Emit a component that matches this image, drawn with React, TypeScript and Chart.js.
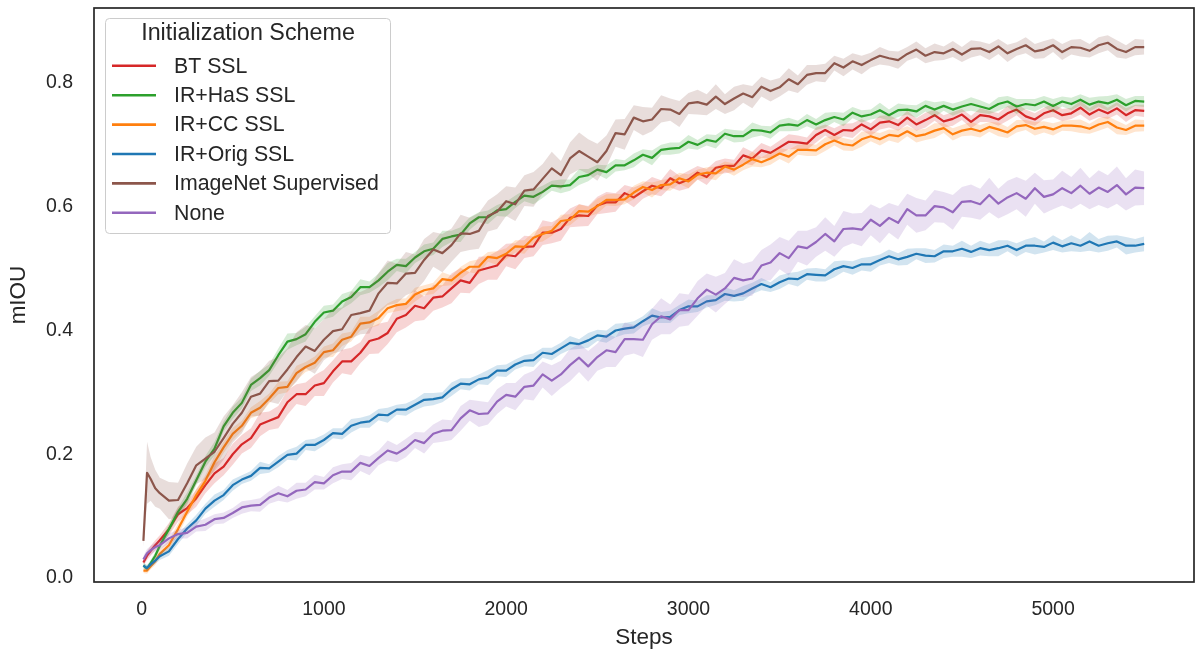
import React, { useEffect, useRef } from 'react';
import { Chart, registerables } from 'chart.js';

Chart.register(...registerables);

// x positions (training steps)
const STEPS = [
  10, 30, 50, 75,
  100, 150, 200, 250, 300, 350, 400, 450, 500, 550,
  600, 650, 700, 750, 800, 850, 900, 950, 1000, 1050,
  1100, 1150, 1200, 1250, 1300, 1350, 1400, 1450, 1500, 1550,
  1600, 1650, 1700, 1750, 1800, 1850, 1900, 1950, 2000, 2050,
  2100, 2150, 2200, 2250, 2300, 2350, 2400, 2450, 2500, 2550,
  2600, 2650, 2700, 2750, 2800, 2850, 2900, 2950, 3000, 3050,
  3100, 3150, 3200, 3250, 3300, 3350, 3400, 3450, 3500, 3550,
  3600, 3650, 3700, 3750, 3800, 3850, 3900, 3950, 4000, 4050,
  4100, 4150, 4200, 4250, 4300, 4350, 4400, 4450, 4500, 4550,
  4600, 4650, 4700, 4750, 4800, 4850, 4900, 4950, 5000, 5050,
  5100, 5150, 5200, 5250, 5300, 5350, 5400, 5450, 5500,
];

const X_TICKS = [0, 1000, 2000, 3000, 4000, 5000];
const Y_TICKS = [0, 0.2, 0.4, 0.6, 0.8];

// BT SSL
const BT_MEAN = [
  .025, .036, .044, .053,
  .061, .079, .103, .113, .129, .15, .169, .18, .2, .216,
  .226, .248, .254, .26, .284, .297, .297, .311, .315, .334,
  .35, .35, .364, .383, .387, .396, .419, .425, .44, .436,
  .453, .455, .468, .481, .477, .497, .501, .505, .522, .52,
  .535, .536, .558, .558, .564, .582, .586, .585, .602, .607,
  .607, .622, .615, .625, .634, .63, .646, .638, .644, .655,
  .648, .663, .666, .666, .683, .678, .691, .687, .696, .705,
  .704, .702, .716, .724, .716, .724, .723, .733, .725, .736,
  .738, .732, .744, .733, .74, .748, .738, .742, .749, .737,
  .748, .746, .741, .751, .757, .746, .741, .751, .756, .748,
  .751, .76, .749, .757, .751, .759, .748, .756, .755,
];
const BT_HW = [
  .006, .007, .008, .008,
  .008, .01, .012, .011, .014, .013, .016, .014, .017, .015,
  .016, .019, .015, .018, .02, .016, .019, .017, .021, .018,
  .019, .022, .017, .021, .024, .018, .022, .02, .025, .019,
  .021, .018, .024, .02, .017, .022, .019, .023, .018, .021,
  .018, .016, .02, .017, .019, .015, .018, .016, .014, .017,
  .015, .013, .016, .012, .014, .013, .015, .012, .014, .011,
  .013, .011, .012, .01, .013, .011, .012, .01, .011, .012,
  .011, .01, .012, .009, .011, .01, .012, .009, .01, .011,
  .01, .009, .011, .01, .012, .009, .01, .011, .009, .01,
  .011, .009, .01, .012, .009, .011, .01, .009, .011, .01,
  .009, .011, .01, .012, .009, .01, .011, .009, .01,
];

// IR+HaS SSL
const HAS_MEAN = [
  .02, .015, .024, .036,
  .052, .079, .107, .128, .158, .188, .209, .245, .267, .283,
  .312, .323, .336, .36, .382, .386, .394, .414, .429, .432,
  .447, .454, .47, .47, .481, .495, .506, .504, .518, .528,
  .532, .548, .552, .555, .573, .583, .583, .594, .596, .608,
  .618, .616, .624, .634, .633, .635, .648, .651, .66, .656,
  .667, .667, .675, .684, .679, .692, .694, .695, .705, .7,
  .708, .705, .718, .714, .714, .724, .723, .72, .731, .733,
  .731, .74, .733, .74, .745, .741, .752, .746, .749, .756,
  .748, .756, .757, .754, .763, .757, .763, .757, .762, .766,
  .762, .758, .766, .77, .762, .766, .764, .77, .763, .77,
  .766, .773, .765, .77, .767, .773, .764, .771, .77,
];
const HAS_HW = [
  .005, .005, .005, .006,
  .006, .008, .007, .01, .008, .009, .011, .008, .01, .009,
  .01, .012, .009, .011, .013, .01, .012, .009, .011, .01,
  .012, .01, .013, .009, .011, .014, .01, .012, .009, .011,
  .01, .013, .009, .012, .01, .008, .011, .009, .012, .01,
  .009, .012, .01, .008, .011, .009, .013, .01, .008, .011,
  .01, .008, .011, .009, .012, .008, .01, .009, .011, .008,
  .009, .011, .008, .01, .009, .012, .008, .01, .009, .011,
  .008, .01, .009, .012, .008, .011, .009, .01, .008, .012,
  .009, .011, .008, .01, .009, .012, .008, .01, .009, .011,
  .01, .008, .011, .009, .012, .008, .01, .009, .011, .008,
  .01, .009, .011, .008, .012, .009, .01, .008, .009,
];

// IR+CC SSL
const CC_MEAN = [
  .012, .012, .019, .027,
  .039, .053, .079, .107, .134, .157, .187, .211, .233, .246,
  .267, .275, .29, .307, .309, .331, .341, .348, .365, .368,
  .385, .39, .411, .413, .42, .436, .441, .443, .458, .465,
  .468, .483, .481, .493, .503, .503, .519, .517, .524, .536,
  .535, .55, .556, .561, .577, .579, .593, .592, .601, .611,
  .611, .612, .623, .632, .627, .635, .636, .646, .641, .652,
  .655, .654, .665, .66, .668, .677, .672, .678, .686, .681,
  .692, .692, .691, .701, .707, .701, .699, .709, .714, .709,
  .716, .714, .722, .714, .717, .723, .727, .717, .723, .726,
  .722, .729, .725, .72, .73, .732, .726, .729, .725, .731,
  .731, .73, .726, .733, .737, .728, .724, .731, .731,
];
const CC_HW = [
  .004, .005, .005, .006,
  .007, .008, .009, .008, .01, .009, .011, .009, .01, .008,
  .009, .011, .008, .01, .009, .012, .008, .01, .009, .011,
  .01, .008, .011, .009, .012, .008, .01, .009, .011, .008,
  .009, .011, .008, .01, .009, .012, .008, .011, .009, .01,
  .011, .009, .012, .008, .01, .009, .011, .008, .012, .009,
  .01, .008, .011, .009, .012, .008, .01, .009, .011, .008,
  .009, .011, .008, .01, .009, .012, .008, .01, .009, .011,
  .008, .01, .009, .011, .008, .01, .009, .012, .008, .01,
  .009, .011, .008, .01, .009, .012, .008, .01, .009, .011,
  .01, .008, .011, .009, .01, .008, .011, .009, .01, .008,
  .009, .011, .008, .01, .009, .011, .008, .01, .009,
];

// IR+Orig SSL
const ORIG_MEAN = [
  .02, .016, .022, .028,
  .035, .043, .063, .08, .093, .112, .125, .134, .15, .159,
  .165, .178, .177, .188, .199, .201, .215, .215, .223, .234,
  .233, .246, .251, .253, .264, .263, .272, .272, .28, .288,
  .289, .292, .305, .314, .313, .321, .324, .335, .335, .345,
  .351, .352, .364, .362, .371, .38, .378, .384, .392, .39,
  .4, .403, .405, .415, .424, .421, .422, .433, .439, .439,
  .447, .449, .459, .456, .46, .468, .475, .47, .478, .484,
  .483, .491, .49, .489, .499, .504, .501, .507, .507, .514,
  .52, .515, .519, .524, .521, .52, .528, .528, .532, .527,
  .533, .53, .533, .537, .53, .537, .537, .535, .542, .536,
  .541, .537, .544, .537, .541, .544, .537, .537, .54,
];
const ORIG_HW = [
  .004, .005, .005, .005,
  .006, .007, .008, .007, .009, .008, .01, .008, .009, .007,
  .008, .01, .007, .009, .008, .011, .008, .01, .009, .008,
  .009, .011, .008, .01, .009, .012, .008, .01, .009, .011,
  .01, .008, .011, .009, .01, .008, .012, .009, .01, .008,
  .009, .011, .008, .01, .009, .011, .008, .012, .009, .01,
  .011, .009, .01, .008, .012, .009, .01, .008, .011, .009,
  .01, .008, .011, .009, .012, .009, .01, .008, .011, .009,
  .012, .009, .011, .01, .013, .009, .011, .01, .012, .009,
  .011, .01, .013, .009, .012, .01, .011, .009, .013, .01,
  .012, .01, .013, .009, .011, .01, .014, .009, .012, .01,
  .013, .01, .015, .011, .012, .01, .014, .011, .012,
];

// ImageNet Supervised
const IMNET_MEAN = [
  .06, .17, .16, .145,
  .137, .125, .126, .153, .182, .193, .204, .226, .249, .267,
  .293, .298, .318, .319, .337, .357, .374, .367, .385, .399,
  .402, .425, .428, .432, .46, .477, .476, .492, .493, .514,
  .531, .525, .538, .557, .556, .561, .585, .592, .609, .604,
  .626, .628, .645, .662, .651, .678, .69, .681, .672, .69,
  .719, .717, .744, .738, .741, .758, .757, .75, .767, .769,
  .765, .778, .766, .775, .783, .777, .794, .787, .793, .806,
  .798, .813, .816, .816, .832, .825, .835, .829, .837, .844,
  .84, .837, .847, .854, .844, .85, .848, .855, .846, .855,
  .856, .85, .859, .848, .855, .861, .851, .854, .861, .85,
  .858, .857, .852, .861, .865, .855, .85, .858, .858,
];
const IMNET_HW = [
  .01, .05, .035, .03,
  .025, .03, .028, .032, .03, .034, .031, .035, .03, .033,
  .032, .036, .033, .038, .034, .04, .035, .037, .033, .036,
  .035, .038, .034, .037, .033, .036, .032, .035, .03, .034,
  .028, .031, .027, .03, .026, .029, .025, .028, .024, .027,
  .025, .028, .024, .027, .023, .026, .03, .028, .03, .025,
  .022, .025, .02, .023, .019, .022, .018, .021, .017, .02,
  .017, .02, .016, .019, .015, .018, .016, .017, .015, .018,
  .014, .016, .013, .015, .012, .014, .013, .015, .012, .014,
  .012, .014, .011, .013, .012, .014, .011, .013, .012, .014,
  .011, .013, .012, .014, .011, .013, .012, .014, .011, .013,
  .012, .014, .011, .013, .012, .014, .011, .013, .012,
];

// None
const NONE_MEAN = [
  .03, .04, .045, .05,
  .053, .064, .071, .073, .083, .086, .095, .097, .105, .114,
  .117, .118, .13, .137, .132, .141, .143, .155, .153, .166,
  .172, .172, .186, .181, .194, .206, .201, .21, .223, .218,
  .233, .238, .239, .258, .271, .265, .266, .285, .296, .293,
  .309, .311, .329, .319, .329, .344, .356, .342, .357, .368,
  .365, .386, .386, .385, .41, .423, .418, .433, .433, .452,
  .466, .458, .468, .485, .481, .484, .505, .51, .525, .517,
  .536, .533, .543, .556, .544, .564, .565, .563, .579, .569,
  .582, .574, .596, .586, .586, .601, .599, .591, .608, .609,
  .604, .619, .605, .615, .622, .613, .63, .616, .62, .63,
  .622, .634, .621, .631, .624, .635, .62, .631, .63,
];
const NONE_HW = [
  .006, .007, .007, .007,
  .007, .008, .007, .009, .008, .01, .008, .009, .008, .01,
  .009, .011, .01, .012, .01, .013, .011, .012, .01, .013,
  .012, .014, .013, .015, .012, .016, .014, .015, .013, .017,
  .015, .018, .016, .02, .017, .021, .018, .02, .019, .022,
  .02, .024, .021, .025, .022, .026, .023, .025, .022, .027,
  .024, .027, .023, .028, .025, .029, .024, .027, .025, .028,
  .026, .029, .025, .03, .027, .028, .025, .029, .026, .028,
  .025, .028, .024, .027, .025, .029, .024, .027, .025, .028,
  .024, .027, .025, .028, .024, .026, .025, .028, .024, .027,
  .025, .028, .024, .027, .026, .029, .025, .027, .024, .028,
  .026, .029, .025, .028, .027, .03, .026, .029, .027,
];

const LABELS = ['BT SSL', 'IR+HaS SSL', 'IR+CC SSL', 'IR+Orig SSL', 'ImageNet Supervised', 'None'];
const COLORS = ['#d62728', '#2ca02c', '#ff7f0e', '#1f77b4', '#8c564b', '#9467bd'];
const MEANS = [BT_MEAN, HAS_MEAN, CC_MEAN, ORIG_MEAN, IMNET_MEAN, NONE_MEAN];
const HWS = [BT_HW, HAS_HW, CC_HW, ORIG_HW, IMNET_HW, NONE_HW];

const LEGEND_TITLE = 'Initialization Scheme';
const X_TITLE = 'Steps';
const Y_TITLE = 'mIOU';

const FONT = "'Liberation Sans', Arial, Helvetica, sans-serif";
const TEXT_COLOR = '#262626';

function rgba(hex: string, a: number) {
  const n = parseInt(hex.slice(1), 16);
  return `rgba(${(n >> 16) & 255},${(n >> 8) & 255},${n & 255},${a})`;
}

const frameLegendPlugin = {
  id: 'frameLegend',
  afterDraw(chart: any) {
    const { ctx, chartArea: a } = chart;
    ctx.save();
    // frame
    ctx.strokeStyle = '#262626';
    ctx.lineWidth = 1.7;
    ctx.strokeRect(a.left, a.top, a.right - a.left, a.bottom - a.top);

    // legend box
    const bx = a.left + 11.5;
    const by = a.top + 10.5;
    const bw = 285;
    const bh = 215;
    const r = 4;
    ctx.beginPath();
    ctx.moveTo(bx + r, by);
    ctx.lineTo(bx + bw - r, by);
    ctx.arcTo(bx + bw, by, bx + bw, by + r, r);
    ctx.lineTo(bx + bw, by + bh - r);
    ctx.arcTo(bx + bw, by + bh, bx + bw - r, by + bh, r);
    ctx.lineTo(bx + r, by + bh);
    ctx.arcTo(bx, by + bh, bx, by + bh - r, r);
    ctx.lineTo(bx, by + r);
    ctx.arcTo(bx, by, bx + r, by, r);
    ctx.closePath();
    ctx.fillStyle = 'rgba(255,255,255,0.8)';
    ctx.fill();
    ctx.strokeStyle = '#cccccc';
    ctx.lineWidth = 1;
    ctx.stroke();

    ctx.fillStyle = TEXT_COLOR;
    ctx.textBaseline = 'middle';
    ctx.textAlign = 'center';
    ctx.font = `23.3px ${FONT}`;
    ctx.fillText(LEGEND_TITLE, bx + bw / 2, a.top + 26);

    ctx.textAlign = 'left';
    ctx.font = `21.3px ${FONT}`;
    LABELS.forEach((lab, i) => {
      const y = a.top + 58.8 + i * 29.4;
      ctx.strokeStyle = COLORS[i];
      ctx.lineWidth = 2.6;
      ctx.beginPath();
      ctx.moveTo(a.left + 18, y - 1);
      ctx.lineTo(a.left + 62, y - 1);
      ctx.stroke();
      ctx.fillStyle = TEXT_COLOR;
      ctx.fillText(lab, a.left + 80, y);
    });
    ctx.restore();
  },
};

export default function App() {
  const ref = useRef<HTMLCanvasElement | null>(null);

  useEffect(() => {
    if (!ref.current) return;
    const datasets: any[] = [];
    MEANS.forEach((mean, k) => {
      const hw = HWS[k];
      datasets.push({
        label: LABELS[k] + ' upper',
        data: STEPS.map((s, i) => ({ x: s, y: mean[i] + hw[i] })),
        borderWidth: 0,
        pointRadius: 0,
        fill: false,
        order: 100 - 2 * k,
      });
      datasets.push({
        label: LABELS[k] + ' lower',
        data: STEPS.map((s, i) => ({ x: s, y: mean[i] - hw[i] })),
        borderWidth: 0,
        pointRadius: 0,
        fill: '-1',
        backgroundColor: rgba(COLORS[k], 0.2),
        order: 100 - 2 * k,
      });
    });
    MEANS.forEach((mean, k) => {
      datasets.push({
        label: LABELS[k],
        data: STEPS.map((s, i) => ({ x: s, y: mean[i] })),
        borderColor: COLORS[k],
        borderWidth: 2.2,
        borderJoinStyle: 'round',
        pointRadius: 0,
        fill: false,
        tension: 0,
        order: 99 - 2 * k,
      });
    });

    const chart = new Chart(ref.current, {
      type: 'line',
      data: { datasets },
      options: {
        responsive: false,
        animation: false,
        events: [],
        layout: { padding: { left: 0, top: 8, right: 4, bottom: 0 } },
        plugins: {
          legend: { display: false },
          tooltip: { enabled: false },
        },
        scales: {
          x: {
            type: 'linear',
            min: -261,
            max: 5773,
            grid: { display: false, drawTicks: false },
            border: { display: false },
            afterBuildTicks: (axis: any) => {
              axis.ticks = X_TICKS.map((v) => ({ value: v }));
            },
            afterFit: (axis: any) => {
              axis.height = 73;
              axis.paddingLeft = 0;
              axis.paddingRight = 0;
            },
            ticks: {
              padding: 16,
              color: TEXT_COLOR,
              font: { family: FONT, size: 19.5 },
              maxRotation: 0,
              callback: (v: any) => String(v),
            },
            title: {
              display: true,
              text: X_TITLE,
              color: TEXT_COLOR,
              font: { family: FONT, size: 22.5 },
              padding: { top: 0, bottom: 3.5 },
            },
          },
          y: {
            type: 'linear',
            min: -0.0065,
            max: 0.9212,
            grid: { display: false, drawTicks: false },
            border: { display: false },
            afterBuildTicks: (axis: any) => {
              axis.ticks = Y_TICKS.map((v) => ({ value: v }));
            },
            afterFit: (axis: any) => {
              axis.width = 94;
              axis.paddingTop = 0;
              axis.paddingBottom = 0;
            },
            ticks: {
              padding: 21,
              color: TEXT_COLOR,
              font: { family: FONT, size: 19.5 },
              callback: (v: any) => Number(v).toFixed(1),
            },
            title: {
              display: true,
              text: Y_TITLE,
              color: TEXT_COLOR,
              font: { family: FONT, size: 22.5 },
              padding: { top: 5.5, bottom: 0 },
            },
          },
        },
      },
      plugins: [frameLegendPlugin],
    });
    return () => chart.destroy();
  }, []);

  return (
    <div style={{ position: 'fixed', left: 0, top: 0, width: 1198, height: 655, background: '#fff' }}>
      <canvas ref={ref} width={1198} height={655} style={{ display: 'block' }} />
    </div>
  );
}
